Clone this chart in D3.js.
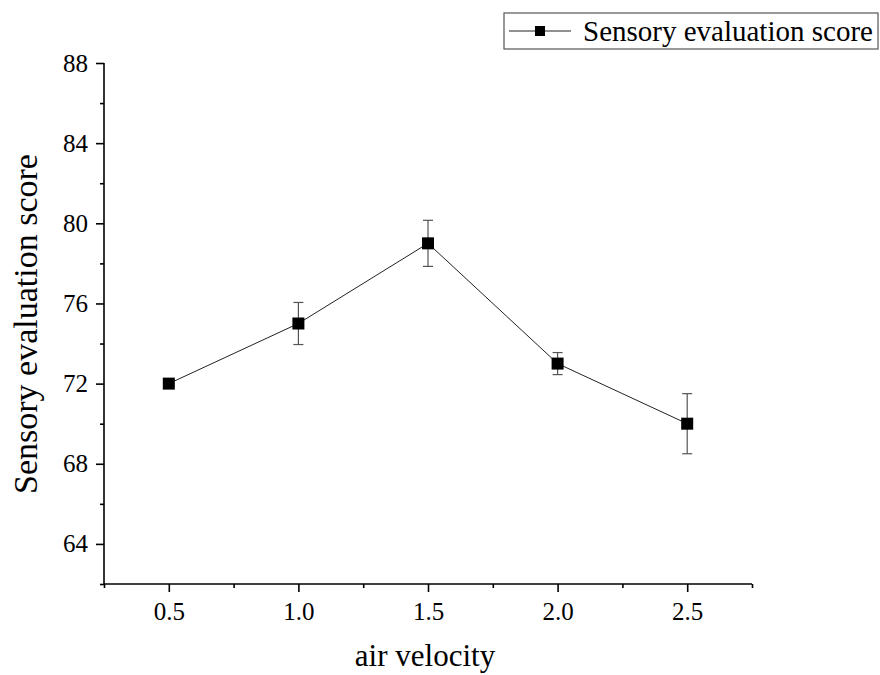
<!DOCTYPE html>
<html><head><meta charset="utf-8">
<script src="https://cdn.jsdelivr.net/npm/d3@7"></script>
<style>body{margin:0;background:#fff}svg{display:block}</style>
</head><body>
<svg id="c" width="880" height="675"></svg>
<script>
const xValues = [0.5, 1.0, 1.5, 2.0, 2.5];
const scores = [72, 75, 79, 73, 70];
const errors = [0, 1.05, 1.15, 0.55, 1.5];
const xTicks = [0.5, 1.0, 1.5, 2.0, 2.5];
const xMinor = [0.25, 0.75, 1.25, 1.75, 2.25, 2.75];
const yTicks = [64, 68, 72, 76, 80, 84, 88];
const yMinor = [62, 66, 70, 74, 78, 82, 86];
const seriesName = "Sensory evaluation score";

const svg = d3.select("#c");
const font = "'Liberation Serif', 'Times New Roman', serif";
const x = d3.scaleLinear().domain([0.25, 2.75]).range([104, 752]);
const y = d3.scaleLinear().domain([62, 88]).range([584, 63]);

const xAxis = svg.append("g").attr("transform", `translate(0,${y(62)})`)
  .call(d3.axisBottom(x).tickValues(xTicks).tickFormat(d3.format(".1f")).tickSize(8).tickPadding(10));
svg.append("g").attr("transform", `translate(0,${y(62)})`)
  .call(d3.axisBottom(x).tickValues(xMinor).tickFormat("").tickSize(4))
  .select(".domain").remove();
const yAxis = svg.append("g").attr("transform", `translate(${x(0.25)},0)`)
  .call(d3.axisLeft(y).tickValues(yTicks).tickSize(8).tickPadding(8));
svg.append("g").attr("transform", `translate(${x(0.25)},0)`)
  .call(d3.axisLeft(y).tickValues(yMinor).tickFormat("").tickSize(4))
  .select(".domain").remove();
svg.selectAll(".domain").attr("stroke", "#000").attr("stroke-width", 1.6);
svg.selectAll(".tick line").attr("stroke", "#000").attr("stroke-width", 1.6);
svg.selectAll("g").attr("font-size", null).attr("font-family", null);
svg.selectAll(".tick text").style("font-family", font).style("font-size", "25px").attr("fill", "#000");
xAxis.selectAll(".domain").attr("d", `M${x(0.25)},0H${x(2.75)}`);
yAxis.selectAll(".domain").attr("d", `M0,${y(62)}V${y(88)}`);

// line
const data = xValues.map((v, i) => ({x: v, y: scores[i], e: errors[i]}));
svg.append("path").datum(data)
  .attr("fill", "none").attr("stroke", "#222").attr("stroke-width", 1)
  .attr("d", d3.line().x(d => x(d.x)).y(d => y(d.y)));

// error bars
const eb = svg.append("g").attr("stroke", "#555").attr("stroke-width", 1.2);
data.filter(d => d.e > 0).forEach(d => {
  eb.append("line").attr("x1", x(d.x)).attr("x2", x(d.x)).attr("y1", y(d.y + d.e)).attr("y2", y(d.y - d.e));
  eb.append("line").attr("x1", x(d.x) - 5).attr("x2", x(d.x) + 5).attr("y1", y(d.y + d.e)).attr("y2", y(d.y + d.e));
  eb.append("line").attr("x1", x(d.x) - 5).attr("x2", x(d.x) + 5).attr("y1", y(d.y - d.e)).attr("y2", y(d.y - d.e));
});

// markers
svg.selectAll("rect.m").data(data).enter().append("rect")
  .attr("x", d => x(d.x) - 6).attr("y", d => y(d.y) - 6)
  .attr("width", 12).attr("height", 12).attr("fill", "#000");

// axis titles
svg.append("text").attr("x", 425).attr("y", 666)
  .attr("text-anchor", "middle").style("font-family", font).style("font-size", "31px").text("air velocity");
svg.append("text").attr("transform", `translate(37,${(155 + 493) / 2}) rotate(-90)`)
  .attr("text-anchor", "middle").style("font-family", font).style("font-size", "34px").text(seriesName);

// legend
const lg = svg.append("g");
lg.append("rect").attr("x", 504).attr("y", 13).attr("width", 374).attr("height", 36)
  .attr("fill", "#fff").attr("stroke", "#555").attr("stroke-width", 1.2);
lg.append("line").attr("x1", 509).attr("x2", 571).attr("y1", 31).attr("y2", 31).attr("stroke", "#222").attr("stroke-width", 1);
lg.append("rect").attr("x", 535).attr("y", 26).attr("width", 10).attr("height", 10).attr("fill", "#000");
lg.append("text").attr("x", 583).attr("y", 41).style("font-family", font).style("font-size", "29px").text(seriesName);
</script>
</body></html>
